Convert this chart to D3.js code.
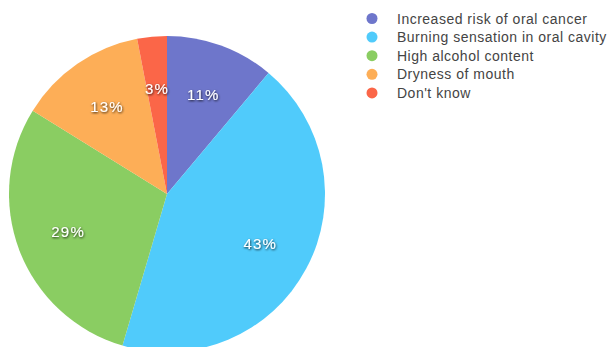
<!DOCTYPE html>
<html>
<head>
<meta charset="utf-8">
<script src="https://cdn.jsdelivr.net/npm/d3@7"></script>
<style>
  html, body { margin: 0; padding: 0; background: #fff; }
  svg { display: block; }
</style>
</head>
<body>
<svg id="chart" width="614" height="347"></svg>
<script>
// Survey answers and their shares (percent)
const categories = [
  "Increased risk of oral cancer",
  "Burning sensation in oral cavity",
  "High alcohol content",
  "Dryness of mouth",
  "Don't know"
];
const values = [11, 43, 29, 13, 3];
const colors = ["#6e76cb", "#50cbfb", "#8acd62", "#fdae57", "#fb6648"];

const svg = d3.select("#chart");
const cx = 167, cy = 194, radius = 158;

const defs = svg.append("defs");
const shadow = defs.append("filter").attr("id", "txtShadow")
  .attr("x", "-20%").attr("y", "-30%").attr("width", "140%").attr("height", "160%");
shadow.append("feDropShadow")
  .attr("dx", 0.6).attr("dy", 1).attr("stdDeviation", 0.9)
  .attr("flood-color", "#111").attr("flood-opacity", 0.85);

const color = d3.scaleOrdinal().domain(categories).range(colors);

const pie = d3.pie().sort(null).value(d => d.value);
const data = categories.map((c, i) => ({ name: c, value: values[i] }));
const arcs = pie(data);

const arc = d3.arc().innerRadius(0).outerRadius(radius);
const labelArc = d3.arc().innerRadius(radius * 0.67).outerRadius(radius * 0.67);

const g = svg.append("g").attr("transform", `translate(${cx},${cy})`);

g.selectAll("path.slice")
  .data(arcs)
  .join("path")
  .attr("class", "slice")
  .attr("d", arc)
  .attr("fill", d => color(d.data.name));

g.selectAll("text.pct")
  .data(arcs)
  .join("text")
  .attr("class", "pct")
  .attr("transform", d => `translate(${labelArc.centroid(d)})`)
  .attr("text-anchor", "middle")
  .attr("dy", "0.36em")
  .attr("fill", "#fff")
  .attr("filter", "url(#txtShadow)")
  .style("font-family", "'Liberation Sans', Arial, sans-serif")
  .style("font-size", "15px")
  .style("letter-spacing", "1.2px")
  .text(d => d.data.value + "%");

// Legend
const legend = svg.append("g").attr("transform", "translate(372,18.5)");
const rowH = 18.6;
const items = legend.selectAll("g.item")
  .data(categories)
  .join("g")
  .attr("class", "item")
  .attr("transform", (d, i) => `translate(0,${i * rowH})`);

items.append("circle")
  .attr("r", 5.5)
  .attr("fill", d => color(d));

items.append("text")
  .attr("x", 25)
  .attr("dy", "0.36em")
  .attr("fill", "#444")
  .style("font-family", "'Liberation Sans', Arial, sans-serif")
  .style("font-size", "14px")
  .style("letter-spacing", "0.5px")
  .text(d => d);
</script>
</body>
</html>
